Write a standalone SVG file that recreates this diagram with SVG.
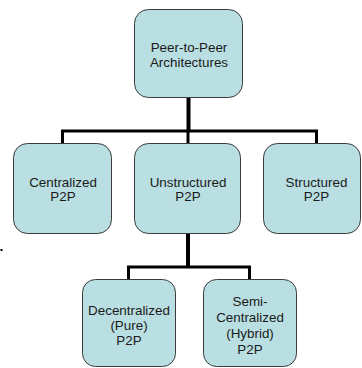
<svg xmlns="http://www.w3.org/2000/svg" width="362" height="368" viewBox="0 0 362 368">
  <style>
    .box { fill: #b9dfe2; stroke: #3a3a3a; stroke-width: 1; }
    .lbl { font-family: "Liberation Sans", Arial, sans-serif; font-size: 13.4px; fill: #1a1a1a; text-anchor: middle; }
    .wire { fill: none; stroke: #000; stroke-width: 3; stroke-linejoin: miter; }
    .stem { fill: none; stroke: #000; stroke-width: 4; }
  </style>
  <rect width="362" height="368" fill="#fff"/>

  <!-- connectors -->
  <g id="connectors">
    <line class="stem" x1="188.5" y1="97" x2="188.5" y2="131"/>
    <polyline class="wire" points="62.5,143 62.5,131 316.5,131 316.5,143"/>
    <line class="wire" x1="188" y1="131" x2="188" y2="143"/>
    <line class="stem" x1="188" y1="233" x2="188" y2="267"/>
    <polyline class="wire" points="128.5,279 128.5,267 249.5,267 249.5,279"/>
  </g>

  <g id="root">
    <rect class="box" x="134.5" y="9.5" width="108" height="88" rx="14"/>
    <text class="lbl" x="189" y="52">Peer-to-Peer</text>
    <text class="lbl" x="189" y="67">Architectures</text>
  </g>

  <g id="centralized">
    <rect class="box" x="13.5" y="143.5" width="98" height="90" rx="14"/>
    <text class="lbl" x="63" y="187">Centralized</text>
    <text class="lbl" x="63" y="201">P2P</text>
  </g>

  <g id="unstructured">
    <rect class="box" x="134.5" y="143.5" width="106" height="90" rx="14"/>
    <text class="lbl" x="188" y="187">Unstructured</text>
    <text class="lbl" x="188" y="201">P2P</text>
  </g>

  <g id="structured">
    <rect class="box" x="263.5" y="143.5" width="97" height="90" rx="14"/>
    <text class="lbl" x="316.5" y="187">Structured</text>
    <text class="lbl" x="316.5" y="201">P2P</text>
  </g>

  <g id="decentralized">
    <rect class="box" x="82.5" y="279.5" width="93" height="87" rx="13"/>
    <text class="lbl" x="129" y="315">Decentralized</text>
    <text class="lbl" x="129" y="330">(Pure)</text>
    <text class="lbl" x="129" y="345">P2P</text>
  </g>

  <g id="semi-centralized">
    <rect class="box" x="203.5" y="279.5" width="93" height="87" rx="13"/>
    <text class="lbl" x="250" y="306">Semi-</text>
    <text class="lbl" x="250" y="322">Centralized</text>
    <text class="lbl" x="250" y="338">(Hybrid)</text>
    <text class="lbl" x="250" y="354">P2P</text>
  </g>

  <!-- stray bullet mark at left edge -->
  <rect x="0.5" y="249" width="2" height="2" fill="#000"/>
</svg>
